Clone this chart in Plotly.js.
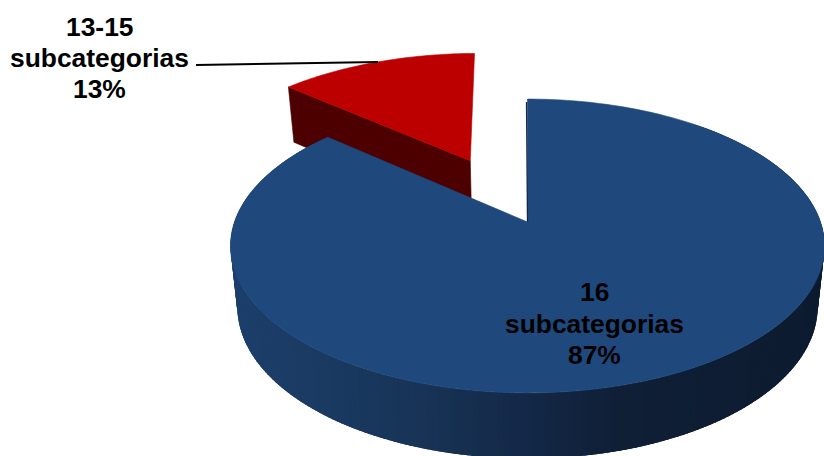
<!DOCTYPE html>
<html>
<head>
<meta charset="utf-8">
<script src="https://cdn.plot.ly/plotly-3.0.1.min.js"></script>
<style>html,body{margin:0;padding:0;background:#fff}#chart{width:824px;height:456px}</style>
</head>
<body>
<div id="chart"></div>
<script>
// Slice data
const categories = ['16 subcategorias', '13-15 subcategorias'];
const shares = [87, 13];
const sliceLabels = [['16', 'subcategorias', '87%'], ['13-15', 'subcategorias', '13%']];
const topColors = ['#1f497d', '#bc0000'];

// Tilted-disc projection, in plot units
const originX = 527.5, originY = 222;
const radiusX = 293, radiusY = 143, perspective = 0.1633;
const depth = 60, depthScaleX = 0.977;
const cutEdgeSkewDeg = -2.2;          // cut edge leans a little under the perspective
const farEdgeSkewDeg = -0.8;          // same lean on the small slice's far edge
const redOffsetU = -0.21, redOffsetV = 0.46;  // how far the small slice is pulled out

// Side wall shading of the large slice, left to right
const wallStops = [[237,[28,63,107]],[330,[26,58,98]],[440,[23,50,84]],[520,[20,41,72]],[620,[15,31,54]],[824,[13,27,47]]];

function wallColor(x) {
  for (let i = 1; i < wallStops.length; i++) {
    if (x <= wallStops[i][0]) {
      const a = wallStops[i-1], b = wallStops[i];
      const t = Math.max(0, (x - a[0]) / (b[0] - a[0]));
      return 'rgb(' + a[1].map((c, j) => Math.round(c + (b[1][j] - c) * t)).join(',') + ')';
    }
  }
  return 'rgb(13,27,47)';
}

// Project a point of the disc plane; drop = 1 gives the underside
function project(u, v, drop) {
  const w = 1 + perspective * v;
  const sx = drop ? depthScaleX : 1;
  return [originX + sx * radiusX * u / w,
          originY - radiusY * v / w + (drop ? depth / Math.sqrt(w) : 0)];
}
function rimPoint(deg, ox, oy, drop) {
  const r = deg * Math.PI / 180;
  return project(ox + Math.sin(r), oy + Math.cos(r), drop);
}
function polygon(pts, color, lineWidth) {
  return {
    type: 'scatter', mode: 'lines', x: pts.map(p => p[0]), y: pts.map(p => p[1]),
    fill: 'toself', fillcolor: color, hoverinfo: 'skip',
    line: {color: color, width: lineWidth === undefined ? 0.6 : lineWidth, simplify: false}
  };
}
function arc(a0, a1, ox, oy, drop, n) {
  const out = [];
  for (let i = 0; i <= n; i++) out.push(rimPoint(a0 + (a1 - a0) * i / n, ox, oy, drop));
  return out;
}

const total = shares.reduce((s, x) => s + x, 0);
const splitDeg = 360 * shares[0] / total + cutEdgeSkewDeg;

const traces = [];

// Pulled-out slice: cut face, then top
const ox = redOffsetU, oy = redOffsetV;
const redApexTop = project(ox, oy, 0), redApexBot = project(ox, oy, 1);
const redEdgeTop = rimPoint(splitDeg, ox, oy, 0), redEdgeBot = rimPoint(splitDeg, ox, oy, 1);
traces.push(polygon([redEdgeTop, redApexTop, redApexBot, redEdgeBot, redEdgeTop], '#4c0000'));
traces.push(polygon([redApexTop].concat(arc(splitDeg, 360 + farEdgeSkewDeg, ox, oy, 0, 50)).concat([redApexTop]), topColors[1]));

// Large slice: shaded rim strips, each overlapping the next so no seams show, then top surface
const stripDeg = 1;
for (let a = 40; a < splitDeg - 5; a += stripDeg) {
  const t0 = rimPoint(a, 0, 0, 0), t1 = rimPoint(a + 2.5 * stripDeg, 0, 0, 0);
  const b0 = rimPoint(a, 0, 0, 1), b1 = rimPoint(a + 2.5 * stripDeg, 0, 0, 1);
  traces.push(polygon([t0, t1, b1, b0, t0], wallColor(b0[0]), 0));
}
const apex = project(0, 0, 0);
traces.push(polygon([apex].concat(arc(0, splitDeg, 0, 0, 0, 240)).concat([apex]), topColors[0]));

// Thin dark cut face seen edge-on at the notch
const notchTop = rimPoint(0, 0, 0, 0);
traces.push({
  type: 'scatter', mode: 'lines', hoverinfo: 'skip',
  x: [apex[0], notchTop[0] - 1], y: [apex[1], notchTop[1] + 3],
  line: {color: '#12294a', width: 1.3}
});

// Leader from the small slice to its label
const leaderX = [196, 378], leaderY = [65, 62];
traces.push({type: 'scatter', mode: 'lines', x: leaderX, y: leaderY, hoverinfo: 'skip',
  line: {color: '#000000', width: 2}});

const labelFont = {family: 'Liberation Sans, Arial, sans-serif', size: 26.4, color: '#000000'};
const labelCenters = [594, 99.5];
const labelLineY = [[292, 323.5, 355], [27, 58, 89]];
const annotations = [];
sliceLabels.forEach((lines, i) => lines.forEach((txt, j) => annotations.push({
  x: labelCenters[i], y: labelLineY[i][j], xref: 'x', yref: 'y', text: '<b>' + txt + '</b>',
  showarrow: false, align: 'center', xanchor: 'center', yanchor: 'middle', font: labelFont
})));

Plotly.newPlot('chart', traces, {
  width: 824, height: 456, margin: {l: 0, r: 0, t: 0, b: 0},
  paper_bgcolor: '#ffffff', plot_bgcolor: '#ffffff', showlegend: false,
  xaxis: {range: [0, 824], visible: false, fixedrange: true},
  yaxis: {range: [456, 0], visible: false, fixedrange: true},
  annotations: annotations
}, {displayModeBar: false, staticPlot: true});
</script>
</body>
</html>
